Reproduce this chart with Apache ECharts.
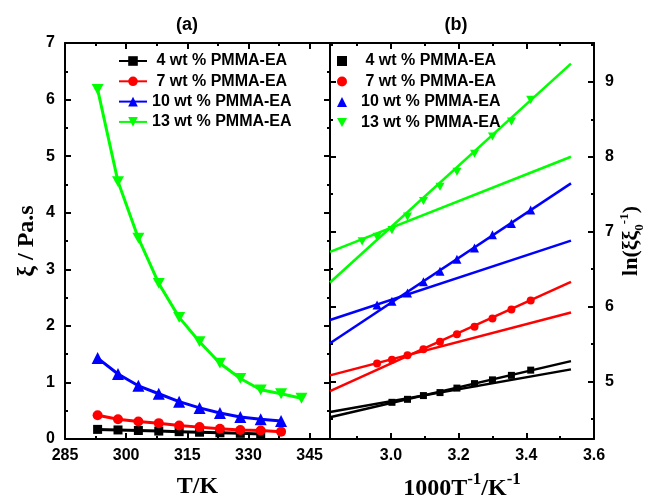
<!DOCTYPE html>
<html><head><meta charset="utf-8">
<script src="https://cdn.jsdelivr.net/npm/echarts@6/dist/echarts.min.js"></script>
<style>html,body{margin:0;padding:0;background:#fff}#c{width:650px;height:497px}</style>
</head><body><div id="c"></div>
<script>
// ---------- data ----------
const temps = [293, 298, 303, 308, 313, 318, 323, 328, 333, 338, 343];
const visc4  = [0.17, 0.16, 0.15, 0.14, 0.13, 0.12, 0.11, 0.10, 0.09];
const visc7  = [0.42, 0.35, 0.31, 0.28, 0.24, 0.21, 0.18, 0.16, 0.15, 0.13];
const visc10 = [1.43, 1.15, 0.94, 0.80, 0.66, 0.55, 0.46, 0.39, 0.35, 0.32];
const visc13 = [6.18, 4.55, 3.55, 2.75, 2.15, 1.72, 1.34, 1.07, 0.87, 0.80, 0.72];

const invT = [3.413, 3.356, 3.300, 3.247, 3.195, 3.145, 3.096, 3.049, 3.003, 2.959, 2.915];
const ln4  = [5.15, 5.08, 5.02, 4.97, 4.91, 4.85, 4.81, 4.76, 4.72];
const ln7  = [6.08, 5.96, 5.84, 5.73, 5.63, 5.53, 5.43, 5.35, 5.29, 5.24];
const ln10 = [7.29, 7.11, 6.96, 6.78, 6.63, 6.47, 6.33, 6.18, 6.07, 6.02];
const ln13 = [8.76, 8.47, 8.27, 8.04, 7.80, 7.60, 7.41, 7.20, 7.02, 6.93, 6.87];

// fitted straight lines: values at the two ends fitX
const fitX = [2.82, 3.532];
const fit4Steep = [4.52, 5.27],  fit4Shallow = [4.59, 5.16];
const fit7Steep = [4.87, 6.33],  fit7Shallow = [5.08, 5.92];
const fit10Steep = [5.51, 7.645], fit10Shallow = [5.82, 6.88];
const fit13Steep = [6.32, 9.245], fit13Shallow = [6.73, 8.00];

const seriesNames = ['4 wt % PMMA-EA', '7 wt % PMMA-EA', '10 wt % PMMA-EA', '13 wt % PMMA-EA'];
const colors = ['#000000', '#ff0000', '#0000ff', '#00ff00'];

const xLabelsA = [285, 300, 315, 330, 345];
const xMinorA = [292.5, 307.5, 322.5, 337.5];
const yLabelsA = [0, 1, 2, 3, 4, 5, 6, 7];
const yMinorA = [0.5, 1.5, 2.5, 3.5, 4.5, 5.5, 6.5];
const xLabelsB = [3.0, 3.2, 3.4, 3.6];
const xMinorB = [2.9, 3.1, 3.3, 3.5];
const yLabelsB = [5, 6, 7, 8, 9];
const yMinorB = [4.5, 5.5, 6.5, 7.5, 8.5, 9.5];

// ---------- chart ----------
const downTri = 'path://M0,0L10,0L5,9Z';
const symbols = ['rect', 'circle', 'triangle', downTri];
const symSizeA = [9, 10, 12, 12];
const symSizeB = [7, 8, 9, 9];

const sans = 'Liberation Sans';
const serif = 'Liberation Serif';
const lblStyle = {fontFamily: sans, fontWeight: 'bold', fontSize: 16, color: '#000'};
const tickLine = {color: '#000', width: 2};

function axisPair(grid, pos, min, max, majors, minors, labels, extra) {
  const base = {type: 'value', gridIndex: grid, position: pos, min: min, max: max,
    splitLine: {show: false}, scale: false};
  const main = Object.assign({}, base, {
    axisLine: {show: true, onZero: false, lineStyle: {color: '#000', width: 2}},
    axisTick: {show: true, inside: true, length: 6, customValues: majors, lineStyle: tickLine},
    axisLabel: labels ? Object.assign({show: true, customValues: labels, margin: 9}, lblStyle) : {show: false}
  }, extra || {});
  const minor = Object.assign({}, base, {
    axisLine: {show: false, onZero: false},
    axisTick: {show: true, inside: true, length: 3, customValues: minors, lineStyle: tickLine},
    axisLabel: {show: false}
  });
  return [main, minor];
}

const nameFont = {fontFamily: serif, fontWeight: 'bold', fontSize: 24, color: '#000'};

const xAxes = [].concat(
  axisPair(0, 'bottom', 285, 350, xLabelsA.slice(1), xMinorA, xLabelsA, {
    name: 'T/K', nameLocation: 'middle', nameGap: 36, nameTextStyle: nameFont}),
  axisPair(0, 'top', 285, 350, xLabelsA.slice(1), xMinorA, null),
  axisPair(1, 'bottom', 2.82, 3.6, xLabelsB, xMinorB, xLabelsB, {
    name: '{a|1000T}{p|-1}{a|/K}{p|-1}', nameLocation: 'middle', nameGap: 32,
    nameTextStyle: {rich: {
      a: {fontFamily: serif, fontWeight: 'bold', fontSize: 24, color: '#000', lineHeight: 30, verticalAlign: 'bottom'},
      p: {fontFamily: serif, fontWeight: 'bold', fontSize: 17, color: '#000', lineHeight: 30, verticalAlign: 'top'}
    }}}),
  axisPair(1, 'top', 2.82, 3.6, xLabelsB, xMinorB, null)
);
xAxes[4].axisLabel.formatter = v => Number(v).toFixed(1);

const yAxes = [].concat(
  axisPair(0, 'left', 0, 7, yLabelsA, yMinorA, yLabelsA, {
    name: 'ξ / Pa.s', nameLocation: 'middle', nameGap: 26, nameTextStyle: nameFont}),
  axisPair(0, 'right', 0, 7, yLabelsA, yMinorA, null),
  axisPair(1, 'right', 4.23, 9.52, yLabelsB, yMinorB, yLabelsB, {
    name: '{a|ln(ξξ}{b|0}{p|-1}{a|)}', nameLocation: 'middle', nameGap: 16,
    nameTextStyle: {rich: {
      a: {fontFamily: serif, fontWeight: 'bold', fontSize: 22, color: '#000', lineHeight: 28, verticalAlign: 'middle'},
      b: {fontFamily: serif, fontWeight: 'bold', fontSize: 13, color: '#000', lineHeight: 28, verticalAlign: 'bottom'},
      p: {fontFamily: serif, fontWeight: 'bold', fontSize: 13, color: '#000', lineHeight: 28, verticalAlign: 'top'}
    }}}),
  axisPair(1, 'left', 4.23, 9.52, yLabelsB, yMinorB, null)
);
yAxes[4].axisLabel.margin = 11;
yAxes[0].axisLabel.margin = 10;

const viscSets = [visc4, visc7, visc10, visc13];
const lnSets = [ln4, ln7, ln10, ln13];
const fits = [[fit4Steep, fit4Shallow], [fit7Steep, fit7Shallow], [fit10Steep, fit10Shallow], [fit13Steep, fit13Shallow]];

const series = [];
viscSets.forEach((vals, i) => {
  series.push({
    type: 'line', name: seriesNames[i], xAxisIndex: 0, yAxisIndex: 0,
    data: vals.map((v, k) => [temps[k], v]),
    symbol: symbols[i], symbolSize: symSizeA[i], symbolKeepAspect: true, showSymbol: true,
    lineStyle: {color: colors[i], width: 3}, itemStyle: {color: colors[i]},
    animation: false, z: 2 + i
  });
});
fits.forEach((pair, i) => {
  pair.forEach((f, j) => {
    series.push({
      type: 'line', name: 'fit' + i + '_' + j, xAxisIndex: 4, yAxisIndex: 4,
      data: fitX.map((x, k) => [x, f[k]]),
      symbol: 'none', lineStyle: {color: colors[i], width: 2.5}, animation: false, z: 2
    });
  });
});
lnSets.forEach((vals, i) => {
  series.push({
    type: 'scatter', name: 'b:' + seriesNames[i], xAxisIndex: 4, yAxisIndex: 4,
    data: vals.map((v, k) => [invT[k], v]),
    symbol: symbols[i], symbolSize: symSizeB[i], symbolKeepAspect: true,
    itemStyle: {color: colors[i], opacity: 1}, animation: false, z: 5
  });
});

const legendFmt = name => {
  const n = name.startsWith('b:') ? name.slice(2) : name;
  return (n.length < 15 ? ' ' : '') + n;
};

const option = {
  backgroundColor: '#ffffff',
  animation: false,
  grid: [
    {left: 65, top: 43, width: 265, height: 396, containLabel: false, outerBoundsMode: 'none'},
    {left: 330, top: 43, width: 264, height: 396, containLabel: false, outerBoundsMode: 'none'}
  ],
  xAxis: xAxes,
  yAxis: yAxes,
  legend: [
    {data: seriesNames, left: 118, top: 53, orient: 'vertical', itemWidth: 28, itemHeight: 12,
     itemGap: 4.3, selectedMode: false, formatter: legendFmt, textStyle: lblStyle, padding: 0},
    {data: seriesNames.map((n, i) => ({name: 'b:' + n, icon: symbols[i]})), left: 337, top: 53,
     orient: 'vertical', itemWidth: 10, itemHeight: 10, itemGap: 4.5, selectedMode: false,
     formatter: legendFmt, textStyle: Object.assign({padding: [0, 0, 0, 9]}, lblStyle), padding: 0}
  ],
  graphic: [
    {type: 'text', x: 187, y: 25, style: {text: '(a)', align: 'center', verticalAlign: 'middle',
      fontFamily: sans, fontWeight: 'bold', fontSize: 18, fill: '#000'}},
    {type: 'text', x: 456, y: 25, style: {text: '(b)', align: 'center', verticalAlign: 'middle',
      fontFamily: sans, fontWeight: 'bold', fontSize: 18, fill: '#000'}}
  ],
  series: series
};

const chart = echarts.init(document.getElementById('c'), null, {renderer: 'canvas'});
chart.setOption(option);
</script>
</body></html>
